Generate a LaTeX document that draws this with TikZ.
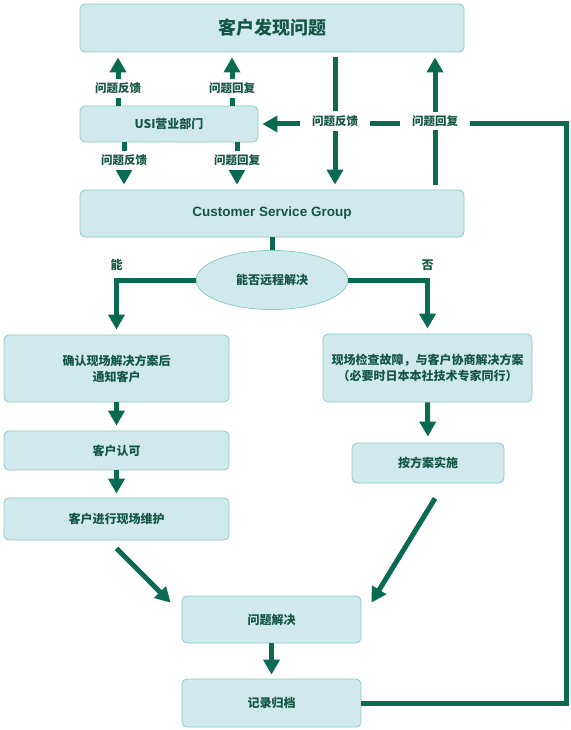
\documentclass[tikz,border=0pt]{standalone}
\usepackage{fontspec}
\setmainfont{Noto Sans CJK SC}
\newfontfamily\latinfont{Liberation Sans}
\usepackage{tikz}
\usetikzlibrary{arrows.meta,shapes.geometric}

\definecolor{flowgreen}{RGB}{11,106,82}
\definecolor{boxfill}{RGB}{208,233,236}
\definecolor{boxline}{RGB}{138,204,192}
\definecolor{textgreen}{RGB}{22,86,70}

\begin{document}
\begin{tikzpicture}[x=1pt,y=-1pt,>={Triangle[width=16pt,length=15pt]}]
    \tikzstyle{box}=[draw=boxline,line width=0.8pt,fill=boxfill,rounded corners=5pt,text=textgreen,
        font=\bfseries\fontsize{12}{16}\selectfont,align=center,inner sep=0pt]
    \tikzstyle{flow}=[draw=flowgreen,line width=5pt]
    \tikzstyle{tag}=[fill=white,text=textgreen,font=\bfseries\fontsize{11.5}{14}\selectfont,inner xsep=12pt,inner ysep=4pt]
    \tikzstyle{branch}=[text=textgreen,font=\bfseries\fontsize{12}{14}\selectfont,inner sep=0pt]
    \useasboundingbox (0,0) rectangle (570,730);

    \node[box,minimum width=384pt,minimum height=48pt,font=\bfseries\fontsize{18}{22}\selectfont] (find) at (272,28)  {客户发现问题};
    \node[box,minimum width=178pt,minimum height=36pt]   (usi)    at (169,124)   {USI营业部门};
    \node[box,minimum width=384pt,minimum height=47pt,font=\latinfont\bfseries\fontsize{13.5}{16}\selectfont] (csg) at (272,213.5) {Customer Service Group};
    \node[box,ellipse,minimum width=152pt,minimum height=59pt] (ask) at (272,280) {能否远程解决};
    \node[box,minimum width=225pt,minimum height=67pt]   (onsite) at (116.5,368.5) {确认现场解决方案后\\通知客户};
    \node[box,minimum width=225pt,minimum height=39pt]   (ok)     at (116.5,450.5) {客户认可};
    \node[box,minimum width=225pt,minimum height=42pt]   (repair) at (116.5,519)   {客户进行现场维护};
    \node[box,minimum width=209pt,minimum height=68pt]   (check)  at (427.5,368)   {现场检查故障，与客户协商解决方案\\（必要时日本本社技术专家同行）};
    \node[box,minimum width=152pt,minimum height=40pt]   (act)    at (428,463)     {按方案实施};
    \node[box,minimum width=179pt,minimum height=47pt]   (done)   at (271.5,619.5) {问题解决};
    \node[box,minimum width=179pt,minimum height=48pt]   (file)   at (271.5,703)   {记录归档};

    \coordinate (d1) at ([yshift=-8pt]repair.south);
    \coordinate (d2) at ([xshift=-11pt,yshift=-7pt]done.north west);
    \coordinate (d3) at ([xshift=7pt,yshift=-15pt]act.south);
    \coordinate (d4) at ([xshift=10pt,yshift=-7pt]done.north east);

    % reply loop back to the sales office
    \draw[flow,->,shorten >=4pt] (file.east) -- ++(205,0) |- (usi.east);

    % customer <-> sales office <-> service group
    \draw[flow,->,shorten >=5pt] ([xshift=-51pt]usi.north) -- node[tag,pos=0.33] {问题反馈} ([xshift=-154pt]find.south);
    \draw[flow,->,shorten >=5pt] ([xshift=63pt]usi.north)  -- node[tag,pos=0.33] {问题回复} ([xshift=-40pt]find.south);
    \draw[flow,->,shorten >=5pt] ([xshift=-45pt]usi.south) -- node[tag,pos=0.38] {问题反馈} ([xshift=-148pt]csg.north);
    \draw[flow,->,shorten >=5pt] ([xshift=68pt]usi.south)  -- node[tag,pos=0.38] {问题回复} ([xshift=-35pt]csg.north);
    \draw[flow,->,shorten <=5pt,shorten >=5pt] ([xshift=63pt]find.south) -- node[tag] {问题反馈} ([xshift=63pt]csg.north);
    \draw[flow,->,shorten <=5pt,shorten >=5pt] ([xshift=163pt]csg.north) -- node[tag] {问题回复} ([xshift=163pt]find.south);

    % remote or on site
    \draw[flow] (csg.south) -- (ask.north);
    \draw[flow,->,shorten >=5pt] (ask.west) -| node[branch,pos=0.5,above=7pt] {能} (onsite.north);
    \draw[flow,->,shorten >=5pt] (ask.east) -| node[branch,pos=0.5,above=7pt] {否} (check.north);

    \draw[flow,->,shorten >=5pt] (onsite.south) -- (ok.north);
    \draw[flow,->,shorten >=4pt] (ok.south) -- (repair.north);
    \draw[flow,->,shorten >=6pt] (check.south) -- (act.north);
    \draw[flow,->] (d1) -- (d2);
    \draw[flow,->] (d3) -- (d4);
    \draw[flow,->,shorten >=4pt] (done.south) -- (file.north);
\end{tikzpicture}
\end{document}
